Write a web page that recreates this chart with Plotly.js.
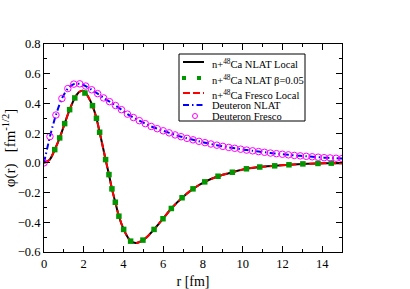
<!DOCTYPE html>
<html>
<head>
<meta charset="utf-8">
<script src="https://cdn.plot.ly/plotly-3.0.1.min.js"></script>
<style>
html,body{margin:0;padding:0;background:#fff;}
#chart{width:410px;height:289px;}
</style>
</head>
<body>
<div id="chart"></div>
<script>
// ---- data ----
var rLocal = [0, 0.29, 0.54, 0.79, 1.04, 1.29, 1.55, 1.75, 1.93, 2.05, 2.21, 2.44, 2.64, 2.8, 2.95, 3.1, 3.27, 3.42, 3.59, 3.77, 4.01, 4.2, 4.36, 4.65, 4.98, 5.25, 5.54, 5.99, 6.41, 6.95, 7.5, 8.09, 8.76, 9.48, 10.19, 10.86, 11.61, 12.33, 13.03, 13.79, 14.46, 15];
var nlatLocal = [0, 0.022, 0.089, 0.168, 0.264, 0.358, 0.437, 0.475, 0.486, 0.478, 0.448, 0.385, 0.3, 0.206, 0.115, 0.022, -0.079, -0.175, -0.265, -0.359, -0.448, -0.497, -0.527, -0.539, -0.52, -0.49, -0.448, -0.376, -0.307, -0.235, -0.175, -0.128, -0.09, -0.063, -0.04, -0.028, -0.02, -0.013, -0.007, -0.004, -0.002, -0.002];
var frescoLocal = [0, 0.022, 0.089, 0.168, 0.264, 0.358, 0.437, 0.475, 0.486, 0.478, 0.448, 0.385, 0.3, 0.206, 0.115, 0.022, -0.079, -0.175, -0.265, -0.359, -0.448, -0.497, -0.527, -0.539, -0.52, -0.49, -0.448, -0.376, -0.307, -0.235, -0.175, -0.128, -0.09, -0.063, -0.04, -0.028, -0.02, -0.013, -0.007, -0.004, -0.002, -0.002];

var rBeta = [0.54, 0.79, 1.04, 1.29, 1.55, 2.06, 2.44, 2.64, 2.8, 3.1, 3.27, 3.42, 3.59, 3.77, 4.01, 4.36, 4.98, 5.54, 5.99, 6.41, 6.95, 7.5, 8.09, 8.76, 9.48, 10.19, 10.86, 11.61, 12.33, 13.03, 13.79, 14.46];
var nlatBeta = [0.089, 0.168, 0.264, 0.358, 0.437, 0.47, 0.385, 0.3, 0.206, 0.022, -0.079, -0.175, -0.265, -0.359, -0.448, -0.527, -0.52, -0.448, -0.376, -0.307, -0.235, -0.175, -0.128, -0.09, -0.063, -0.04, -0.028, -0.02, -0.013, -0.007, -0.004, -0.002];

var rDeut = [0, 0.3, 0.6, 0.9, 1.2, 1.5, 1.8, 2.1, 2.4, 2.7, 3.0, 3.3, 3.6, 3.9, 4.2, 4.5, 4.8, 5.1, 5.4, 5.7, 6.0, 6.3, 6.6, 6.9, 7.2, 7.5, 7.8, 8.1, 8.4, 8.7, 9.0, 9.3, 9.6, 9.9, 10.2, 10.5, 10.8, 11.1, 11.4, 11.7, 12.0, 12.3, 12.6, 12.9, 13.2, 13.5, 13.8, 14.1, 14.4, 14.7, 15.0];
var deutNLAT = [0, 0.177, 0.322, 0.433, 0.5, 0.53, 0.532, 0.517, 0.492, 0.466, 0.437, 0.412, 0.386, 0.358, 0.328, 0.305, 0.284, 0.264, 0.245, 0.23, 0.216, 0.202, 0.188, 0.176, 0.165, 0.155, 0.145, 0.136, 0.127, 0.119, 0.111, 0.104, 0.098, 0.092, 0.086, 0.081, 0.076, 0.071, 0.066, 0.062, 0.058, 0.054, 0.05, 0.047, 0.044, 0.041, 0.038, 0.035, 0.033, 0.031, 0.029];
var deutFresco = [0, 0.177, 0.322, 0.433, 0.5, 0.53, 0.532, 0.517, 0.492, 0.466, 0.437, 0.412, 0.386, 0.358, 0.328, 0.305, 0.284, 0.264, 0.245, 0.23, 0.216, 0.202, 0.188, 0.176, 0.165, 0.155, 0.145, 0.136, 0.127, 0.119, 0.111, 0.104, 0.098, 0.092, 0.086, 0.081, 0.076, 0.071, 0.066, 0.062, 0.058, 0.054, 0.05, 0.047, 0.044, 0.041, 0.038, 0.035, 0.033, 0.031, 0.029];

var seriesNames = ["n+<sup>48</sup>Ca NLAT Local", "n+<sup>48</sup>Ca NLAT β=0.05", "n+<sup>48</sup>Ca Fresco Local", "Deuteron NLAT", "Deuteron Fresco"];
var xTitle = "r [fm]";
var yTitle = "φ(r)   [fm<sup>-1/2</sup>]";

// ---- styles ----
var GREEN = "rgb(0,150,0)";
var FONT = "Liberation Serif";
var W = 410, H = 289, ML = 44, MR = 68, MT = 44, MB = 37;
function px(x){ return (x - ML) / (W - ML - MR); }
function py(y){ return 1 - (y - MT) / (H - MT - MB); }

var traces = [
  {x: rLocal, y: nlatLocal, mode: "lines", line: {color: "black", width: 2, shape: "spline", smoothing: 0.8}, name: seriesNames[0], showlegend: false},
  {x: rLocal, y: frescoLocal, mode: "lines", line: {color: "red", width: 2, dash: "7px,3px", shape: "spline", smoothing: 0.8}, name: seriesNames[2], showlegend: false},
  {x: rBeta, y: nlatBeta, mode: "markers", marker: {color: GREEN, size: 5.5, symbol: "square"}, name: seriesNames[1], showlegend: false},
  {x: rDeut, y: deutNLAT, mode: "lines", line: {color: "blue", width: 2, dash: "6px,3px,1.5px,3px", shape: "spline", smoothing: 0.8}, name: seriesNames[3], showlegend: false},
  {x: rDeut, y: deutFresco, mode: "markers", marker: {color: "magenta", size: 6.5, symbol: "circle-open", line: {color: "magenta", width: 1}}, name: seriesNames[4], showlegend: false}
];

// manual legend (to match compact spacing)
var LX0 = 179, LX1 = 305, LY0 = 54, LY1 = 121;
var rows = [62, 78, 93, 105, 116];
var shapes = [
  {type: "rect", xref: "paper", yref: "paper", x0: px(LX0), x1: px(LX1), y0: py(LY0), y1: py(LY1), line: {color: "black", width: 1}, fillcolor: "white", layer: "above"},
  {type: "line", xref: "paper", yref: "paper", x0: px(183), x1: px(204), y0: py(rows[0]), y1: py(rows[0]), line: {color: "black", width: 2}},
  {type: "rect", xref: "paper", yref: "paper", x0: px(182), x1: px(186), y0: py(rows[1]-2), y1: py(rows[1]+2), line: {width: 0}, fillcolor: GREEN},
  {type: "rect", xref: "paper", yref: "paper", x0: px(197), x1: px(201), y0: py(rows[1]-2), y1: py(rows[1]+2), line: {width: 0}, fillcolor: GREEN},
  {type: "line", xref: "paper", yref: "paper", x0: px(183), x1: px(204), y0: py(rows[2]), y1: py(rows[2]), line: {color: "red", width: 2, dash: "7px,3px"}},
  {type: "line", xref: "paper", yref: "paper", x0: px(183), x1: px(204), y0: py(rows[3]), y1: py(rows[3]), line: {color: "blue", width: 2, dash: "6px,3px,1.5px,3px"}},
  {type: "circle", xref: "paper", yref: "paper", x0: px(192.5), x1: px(197.5), y0: py(rows[4]-2.5), y1: py(rows[4]+2.5), line: {color: "magenta", width: 1}}
];
var annotations = seriesNames.map(function(t, i){
  return {text: t, xref: "paper", yref: "paper", x: px(210), y: py(rows[i] + (i < 3 ? 1.5 : 0)), xanchor: "left", yanchor: "middle", showarrow: false, font: {family: FONT, size: 10.5, color: "black"}};
});

var layout = {
  width: W, height: H,
  margin: {l: ML, r: MR, t: MT, b: MB, pad: 0},
  paper_bgcolor: "white", plot_bgcolor: "white",
  font: {family: FONT, color: "black", size: 12},
  showlegend: false,
  xaxis: {
    range: [0, 15], dtick: 2, tick0: 0, ticks: "inside", ticklen: 6, tickwidth: 1, tickcolor: "black",
    showline: true, linecolor: "black", linewidth: 1, mirror: "allticks", showgrid: false, zeroline: false,
    minor: {dtick: 1, ticks: "inside", ticklen: 3, tickcolor: "black", showgrid: false},
    tickfont: {family: FONT, size: 12.5},
    title: {text: xTitle, font: {family: FONT, size: 14}, standoff: 7}
  },
  yaxis: {
    range: [-0.6, 0.8], dtick: 0.2, tick0: 0, ticks: "inside", ticklen: 6, tickwidth: 1, tickcolor: "black",
    showline: true, linecolor: "black", linewidth: 1, mirror: "allticks", showgrid: false, zeroline: false,
    minor: {dtick: 0.1, ticks: "inside", ticklen: 3, tickcolor: "black", showgrid: false},
    tickfont: {family: FONT, size: 12.5}, tickformat: ".1f",
    title: {text: yTitle, font: {family: FONT, size: 15}, standoff: 3}
  },
  shapes: shapes,
  annotations: annotations
};

Plotly.newPlot("chart", traces, layout, {staticPlot: true, displayModeBar: false});
</script>
</body>
</html>
